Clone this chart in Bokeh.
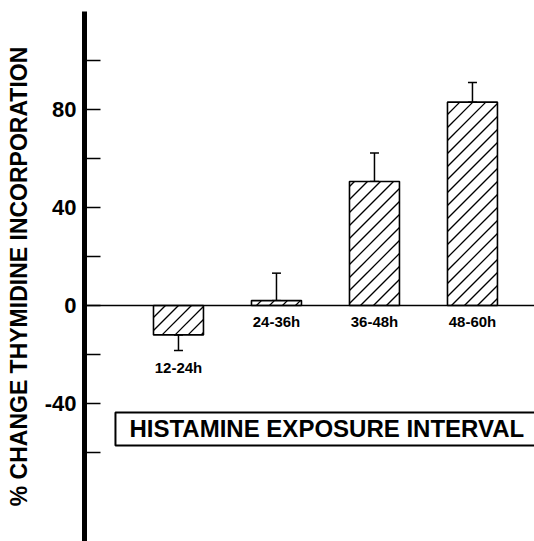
import math
from bokeh.plotting import figure
from bokeh.models import (FixedTicker, Span, Label, BoxAnnotation, ColumnDataSource,
                          Whisker, TeeHead)
from bokeh.core.properties import value
from bokeh.embed import file_html
from bokeh.resources import INLINE

# ---- data ----
categories = ["12-24h", "24-36h", "36-48h", "48-60h"]
pct_change = [-12, 2, 50.6, 83]          # % change thymidine incorporation
error = [6.4, 11.2, 11.6, 8]             # one-sided error bars
y_labelled_ticks = [-40, 0, 40, 80]
y_unlabelled_ticks = [-60, -20, 20, 60, 100]

FONT = "Liberation Sans"
W, H = 534, 541
BL, BT = 84, 11
X0, X1 = -0.959, 3.633
Y0, Y1 = -96.33, 120
BAR_W = 0.51
HATCH_GAP = 13  # px between hatch lines (horizontal)

x = list(range(len(categories)))
err_end = [v + (e if v >= 0 else -e) for v, e in zip(pct_change, error)]
lo = [min(v, e) for v, e in zip(pct_change, err_end)]
hi = [max(v, e) for v, e in zip(pct_change, err_end)]
label_y = [min(0, e) for e in err_end]

src = ColumnDataSource(dict(x=x, top=pct_change, lo=lo, hi=hi, cat=categories, label_y=label_y))

# 45-degree hatch lines clipped to each bar, derived from bar values and the plot scales
kx = (W - BL) / (X1 - X0)   # px per x unit
ky = (H - BT) / (Y1 - Y0)   # px per y unit
hx0, hy0, hx1, hy1 = [], [], [], []
for xi, v in zip(x, pct_change):
    L, R = (xi - BAR_W / 2) * kx, (xi + BAR_W / 2) * kx
    B, T = min(0, v) * ky, max(0, v) * ky
    cmin, cmax = B - R, T - L
    k = math.ceil(cmin / HATCH_GAP)
    while k * HATCH_GAP <= cmax:
        c = k * HATCH_GAP
        xs, xe = max(L, B - c), min(R, T - c)
        if xe > xs:
            hx0.append(xs / kx); hy0.append((xs + c) / ky)
            hx1.append(xe / kx); hy1.append((xe + c) / ky)
        k += 1

p = figure(width=W, height=H, x_range=(X0, X1), y_range=(Y0, Y1),
           output_backend="svg", toolbar_location=None, x_axis_location=None,
           min_border_left=BL, min_border_right=0, min_border_top=BT, min_border_bottom=0)
p.xgrid.visible = False
p.ygrid.visible = False
p.outline_line_color = None
p.background_fill_color = "white"
p.border_fill_color = "white"

ax = p.yaxis[0]
ax.ticker = FixedTicker(ticks=y_labelled_ticks, minor_ticks=y_unlabelled_ticks)
ax.major_label_overrides = {t: str(t) for t in y_labelled_ticks}
ax.axis_line_width = 5
ax.axis_line_color = "black"
ax.major_tick_in = 16
ax.major_tick_out = 0
ax.minor_tick_in = 16
ax.minor_tick_out = 0
ax.major_tick_line_width = 1.5
ax.minor_tick_line_width = 1.5
ax.major_tick_line_color = "black"
ax.minor_tick_line_color = "black"
ax.major_label_text_font = FONT
ax.major_label_text_font_size = "22px"
ax.major_label_text_font_style = "bold"
ax.major_label_text_color = "black"
ax.major_label_standoff = 8
ax.axis_label = "% CHANGE THYMIDINE INCORPORATION"
ax.axis_label_text_font = FONT
ax.axis_label_text_font_size = "23px"
ax.axis_label_text_font_style = "bold"
ax.axis_label_text_color = "black"
ax.axis_label_standoff = 10

p.add_layout(Span(location=0, dimension="width", line_color="black", line_width=1.5))

p.vbar(x="x", width=BAR_W, top="top", bottom=0, source=src,
       fill_color="white", line_color=None)
p.segment(x0=hx0, y0=hy0, x1=hx1, y1=hy1, line_color="black", line_width=1.3)
p.vbar(x="x", width=BAR_W, top="top", bottom=0, source=src,
       fill_color=None, line_color="black", line_width=1.6)

p.add_layout(Whisker(source=src, base="x", lower="lo", upper="hi", dimension="height",
                     line_color="black", line_width=1.5,
                     upper_head=TeeHead(size=9, line_width=1.5, line_color="black"),
                     lower_head=TeeHead(size=9, line_width=1.5, line_color="black")))

p.text(x="x", y="label_y", text="cat", source=src, text_align="center", text_baseline="top",
       y_offset=8, text_font=value(FONT), text_font_style="bold", text_font_size="15px",
       text_color="black")

p.add_layout(BoxAnnotation(left=-0.643, right=3.7, top=-43.7, bottom=-57.1,
                           fill_color="white", fill_alpha=1, line_color="black",
                           line_alpha=1, line_width=2))
p.add_layout(Label(x=-0.5, y=-50.4, text="HISTAMINE EXPOSURE INTERVAL",
                   text_baseline="middle", text_align="left",
                   text_font=FONT, text_font_style="bold", text_font_size="24px",
                   text_color="black"))

open("out.html", "w").write(file_html(p, INLINE))
